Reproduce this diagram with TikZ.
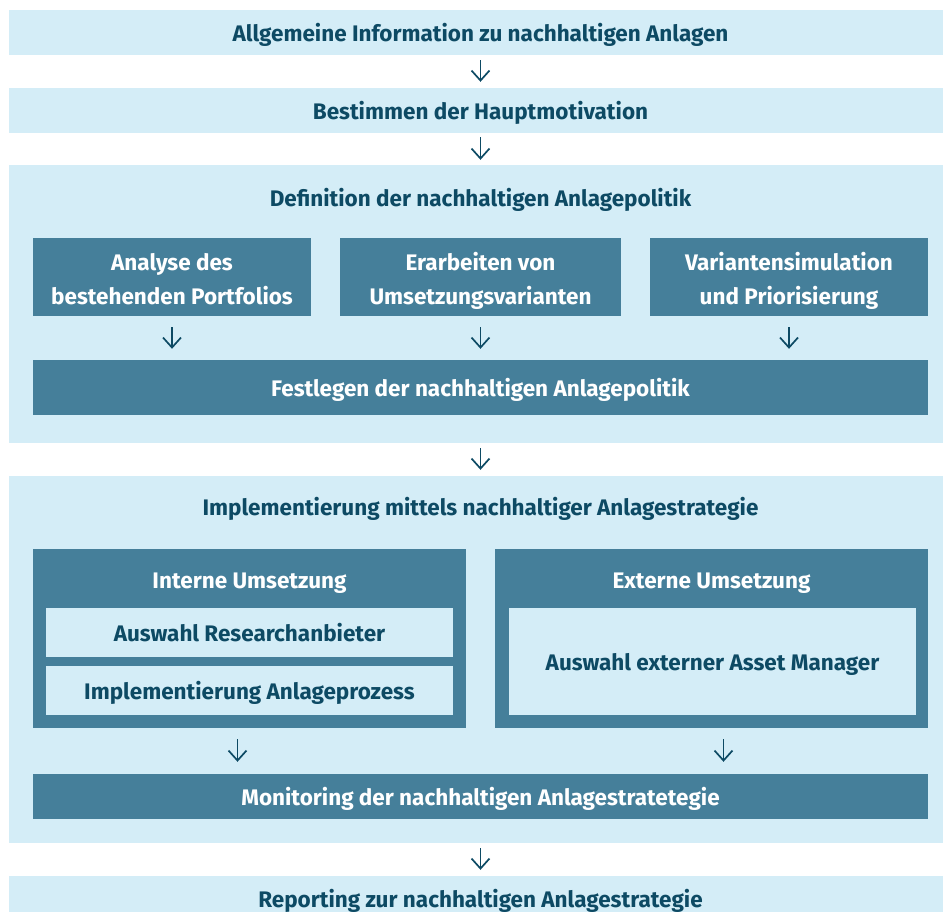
\documentclass[tikz,border=0pt]{standalone}
\usepackage{fontspec}
\setmainfont{Fira Sans}
\usepackage{tikz}
\usetikzlibrary{arrows.meta,positioning,calc}
\definecolor{lightbg}{HTML}{D4EDF7}
\definecolor{tealbox}{HTML}{457F9A}
\definecolor{darktxt}{HTML}{0D4A64}
\newcommand\vstr{\rule[-8.5pt]{0pt}{34.5pt}}
\newcommand\topstr{\rule{0pt}{30pt}}
\tikzset{
  lbox/.style={fill=lightbg, text=darktxt, inner sep=0pt, align=center},
  dbox/.style={fill=tealbox, text=white, inner sep=0pt, align=center},
  ttl/.style={text=darktxt, inner sep=0pt, align=center},
  arr/.style={-{Straight Barb[length=10pt,width=18pt,line width=1.7pt]}, line width=1.7pt, draw=darktxt},
}

\begin{document}
\begin{tikzpicture}[x=1pt, y=-1pt, font=\fontsize{22.5}{34}\selectfont\bfseries,
    execute at begin node=\vstr]
    \useasboundingbox (0,0) rectangle (943,912);
    \clip (0,0) rectangle (943,912);

    % Top steps
    \node[lbox, minimum width=943pt, minimum height=45pt] (allg) at (480.5,32.5)
      {Allgemeine Information zu nachhaltigen Anlagen};
    \node[lbox, minimum width=943pt, minimum height=45pt] (motiv) at (480.5,110.5)
      {Bestimmen der Hauptmotivation};

    % Definition group
    \node[lbox, minimum width=943pt, minimum height=278pt] (defgrp) at (480.5,304) {};
    \node[ttl] (deftitle) at (480.5,198) {Definition der nachhaltigen Anlagepolitik};
    \node[dbox, minimum width=278pt, minimum height=78pt] (analyse) at (172,277)
      {\topstr Analyse des\\\vstr bestehenden Portfolios};
    \node[dbox, minimum width=281pt, minimum height=78pt] (erarb) at (480.5,277)
      {\topstr Erarbeiten von\\\vstr Umsetzungsvarianten};
    \node[dbox, minimum width=278pt, minimum height=78pt] (simul) at (789,277)
      {\topstr Variantensimulation\\\vstr und Priorisierung};
    \node[dbox, minimum width=895pt, minimum height=55pt] (festl) at (480.5,387.5)
      {Festlegen der nachhaltigen Anlagepolitik};

    % Implementation group
    \node[lbox, minimum width=943pt, minimum height=367pt] (impgrp) at (480.5,659.5) {};
    \node[ttl] (imptitle) at (480.5,507) {Implementierung mittels nachhaltiger Anlagestrategie};
    \node[dbox, minimum width=433pt, minimum height=179pt] (intern) at (249.5,638.5) {};
    \node[dbox] (interntitle) at (249.5,580) {Interne Umsetzung};
    \node[lbox, minimum width=407pt, minimum height=49pt] (research) at (249.5,632.5)
      {Auswahl Researchanbieter};
    \node[lbox, minimum width=407pt, minimum height=49pt] (prozess) at (249.5,690.5)
      {Implementierung Anlageprozess};
    \node[dbox, minimum width=433pt, minimum height=179pt] (extern) at (711.5,638.5) {};
    \node[dbox] (externtitle) at (711.5,580) {Externe Umsetzung};
    \node[lbox, minimum width=407pt, minimum height=107pt] (manager) at (712.5,661.5)
      {Auswahl externer Asset Manager};
    \node[dbox, minimum width=895pt, minimum height=45pt] (monit) at (480.5,796.5)
      {Monitoring der nachhaltigen Anlagestratetegie};

    % Reporting
    \node[lbox, minimum width=943pt, minimum height=45pt] (report) at (480.5,898.5)
      {Reporting zur nachhaltigen Anlagestrategie};

    % Arrows
    \draw[arr, shorten <=5pt, shorten >=6pt] (allg) -- (motiv);
    \draw[arr, shorten <=4pt, shorten >=5pt] (motiv) -- (defgrp);
    \foreach \b in {analyse, erarb, simul}
      \draw[arr, shorten <=11pt, shorten >=11pt] (\b.south) -- (\b.south |- festl.north);
    \draw[arr, shorten <=5pt, shorten >=6pt] (defgrp) -- (impgrp);
    \draw[arr, shorten <=11pt, shorten >=12pt] ([xshift=-12pt]intern.south) -- ([xshift=-12pt]intern.south |- monit.north);
    \draw[arr, shorten <=11pt, shorten >=12pt] ([xshift=12pt]extern.south) -- ([xshift=12pt]extern.south |- monit.north);
    \draw[arr, shorten <=5pt, shorten >=6pt] (impgrp) -- (report);
\end{tikzpicture}
\end{document}
